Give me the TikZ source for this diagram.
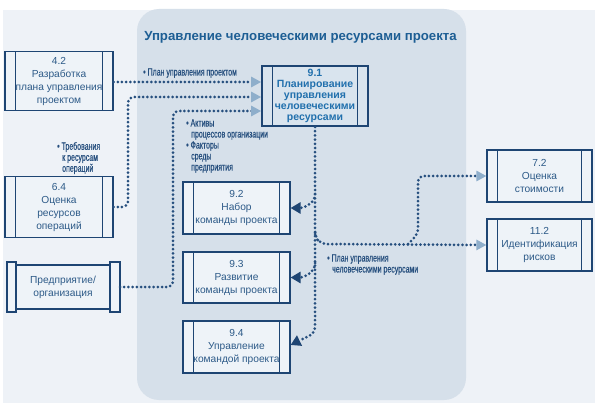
\documentclass[tikz,border=0pt]{standalone}
\usepackage{fontspec}
\setmainfont{Liberation Sans}
\newfontfamily\narrowfont[FakeStretch=0.66,FakeBold=0.4]{Liberation Sans}
\usetikzlibrary{arrows.meta}
\definecolor{outerbg}{HTML}{EEF2F7}
\definecolor{bigbg}{HTML}{D6E0EA}
\definecolor{boxc}{HTML}{1E4573}
\definecolor{boxfill}{HTML}{EEF3F8}
\definecolor{txtc}{HTML}{2D5A88}
\definecolor{dotc}{HTML}{264F7E}
\definecolor{lightarr}{HTML}{8EAECB}
\definecolor{titlec}{HTML}{1D5E94}
\definecolor{keyc}{HTML}{2170AD}
\definecolor{keyfill}{HTML}{D9E4EE}
\tikzset{
  procbox/.style={draw=boxc, line width=1.1pt, fill=boxfill, text=txtc, align=center,
    inner sep=0pt, font=\fontsize{10.2}{13}\selectfont,
    path picture={\draw[boxc,line width=0.9pt]
      ([xshift=10.5pt]path picture bounding box.north west) -- ([xshift=10.5pt]path picture bounding box.south west)
      ([xshift=-10.5pt]path picture bounding box.north east) -- ([xshift=-10.5pt]path picture bounding box.south east);}},
  dotline/.style={dotc, line width=3pt, dash pattern=on 0pt off 4.2pt, line cap=round, rounded corners=6pt},
  lighttip/.style={-{Triangle[length=10pt,width=10pt,fill=lightarr,color=lightarr]}},
  darktip/.style={-{Triangle[length=10pt,width=11pt,fill=boxc,color=boxc]}},
  lbl/.style={text=dotc, font=\narrowfont\fontsize{10.6}{11}\selectfont, align=left, anchor=west, inner sep=0pt}
}
\begin{document}
\begin{tikzpicture}[x=1pt,y=-1pt]
\useasboundingbox (0,0) rectangle (600,409);
\fill[white] (0,0) rectangle (600,409);
\fill[outerbg] (3,10) rectangle (595,403);
\fill[bigbg, rounded corners=22pt] (137,9) rectangle (466,400);

\node[text=titlec, font=\bfseries\fontsize{13.2}{15}\selectfont] (title) at (300.5,37) {Управление человеческими ресурсами проекта};

% boxes
\node[procbox, minimum width=108pt, minimum height=59pt] (b42) at (59,81) {4.2\\Разработка\\плана управления\\проектом};
\node[procbox, minimum width=108pt, minimum height=61pt] (b64) at (59,207) {6.4\\Оценка\\ресурсов\\операций};

% enterprise scroll
\draw[boxc, line width=1.1pt, fill=boxfill] (7,262) rectangle (16,312);
\draw[boxc, line width=1.1pt, fill=boxfill] (110,262) rectangle (120,312);
\node[draw=boxc, line width=1.1pt, fill=boxfill, text=txtc, align=center, inner sep=0pt,
  font=\fontsize{10.2}{13}\selectfont, minimum width=94pt, minimum height=44pt] (ent) at (63,287) {Предприятие/\\организация};
\coordinate (entR) at (120,287);

\node[procbox, line width=1.6pt, fill=keyfill, text=keyc, font=\bfseries\fontsize{10.5}{10.8}\selectfont,
  minimum width=106pt, minimum height=60pt] (b91) at (315,96) {9.1\\Планирование\\управления\\человеческими\\ресурсами};

\node[procbox, minimum width=107pt, minimum height=52pt] (b92) at (236.5,208) {9.2\\Набор\\команды проекта};
\node[procbox, minimum width=107pt, minimum height=51pt] (b93) at (236.5,277.5) {9.3\\Развитие\\команды проекта};
\node[procbox, minimum width=107pt, minimum height=52pt] (b94) at (236.5,347) {9.4\\Управление\\командой проекта};

\node[procbox, minimum width=105pt, minimum height=52pt] (b72) at (539.5,176) {7.2\\Оценка\\стоимости};
\node[procbox, minimum width=105pt, minimum height=52pt] (b112) at (539.5,245) {11.2\\Идентификация\\рисков};

% inputs to 9.1
\draw[dotline, lighttip] (b42.east |- 0,82) -- (b91.west |- 0,82);
\draw[dotline, lighttip] (b64.east) -- (128,207) -- (128,97) -- (b91.west |- 0,97);
\draw[dotline, lighttip] (entR) -- (173,287) -- (173,111) -- (b91.west |- 0,111);

% outputs of 9.1
\coordinate (trunk) at (315,127);
\draw[dotline, darktip] (trunk) -- (315,333) -- (b94.east |- 0,345);
\draw[dotline, darktip] (315,194) to[out=-90,in=0] (b92.east);
\draw[dotline, darktip] (315,263) to[out=-90,in=0] (b93.east);
\draw[dotline, lighttip] (315,234) -- (315,237) -- (321,244) -- (b112.west);
\draw[dotline, lighttip] (408,244) -- (418,234) -- (418,176) -- (b72.west);

% labels
\node[lbl] (l1) at (143,73) {\textbullet\ План управления проектом};
\node[lbl] (l2) at (57,158) {\textbullet\ Требования\\\hspace{5pt}к ресурсам\\\hspace{5pt}операций};
\node[lbl] (l3) at (186,146) {\textbullet\ Активы\\\hspace{5pt}процессов организации\\\textbullet\ Факторы\\\hspace{5pt}среды\\\hspace{5pt}предприятия};
\node[lbl] (l4) at (327,264.5) {\textbullet\ План управления\\\hspace{5pt}человеческими ресурсами};
\end{tikzpicture}
\end{document}
